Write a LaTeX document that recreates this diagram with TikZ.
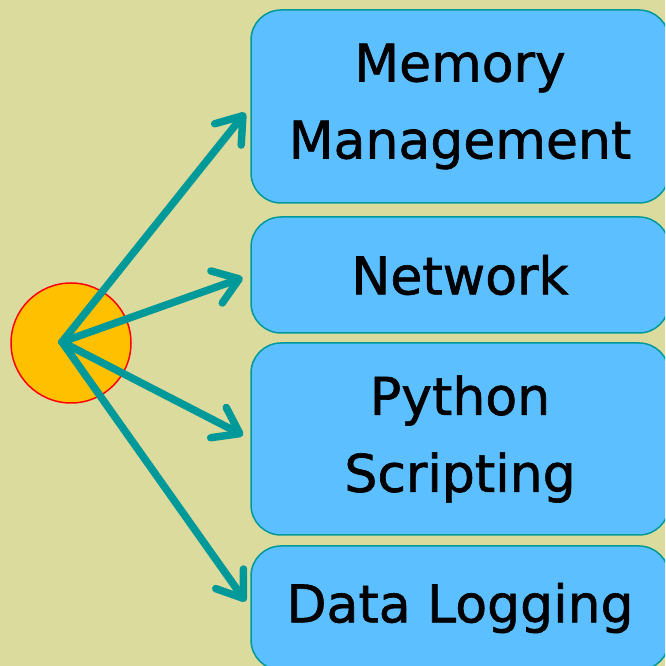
\documentclass[tikz,border=0pt]{standalone}
\usepackage{fontspec}
\setmainfont{DejaVu Sans}
\newfontfamily\topicfont{DejaVu Sans}[FakeBold=1.2]
\usetikzlibrary{arrows.meta,positioning}

\tikzset{
    topic/.style={draw=boxborder, line width=1.5pt, fill=boxfill, rounded corners=30pt,
        minimum width=418pt, align=center, inner sep=0pt,
        font=\topicfont\fontsize{52}{77}\selectfont},
    link/.style={draw=linkcolor, line width=7.5pt, line cap=round,
        -{Straight Barb[round, length=24pt, width=34pt]}, shorten >=8pt}
}

\begin{document}
\begin{tikzpicture}[x=1pt,y=1pt]
        % Define colors
        \definecolor{bgcolor}{RGB}{220,219,158}
        \definecolor{boxfill}{RGB}{92,191,255}
        \definecolor{boxborder}{RGB}{0,153,153}
        \definecolor{linkcolor}{RGB}{0,153,153}
        \definecolor{hubfill}{RGB}{255,192,0}

        % Draw background
        \useasboundingbox (0,0) rectangle (665,666);
        \clip (0,0) rectangle (665,666);
        \fill[bgcolor] (0,0) rectangle (665,666);

        % Draw hub
        \node[circle, draw=red, line width=1.5pt, fill=hubfill, minimum size=120pt] (hub) at (71,323) {};
        \coordinate (src) at (62,324);

        % Draw topics
        \node[topic, minimum height=193pt] (memory) at (460,559.5) {Memory\\Management};
        \node[topic, minimum height=116pt] (network) at (460,391) {Network};
        \node[topic, minimum height=192pt] (python) at (460,227) {Python\\Scripting};
        \node[topic, minimum height=124pt] (logging) at (460,58) {Data Logging};

        % Draw links
        \foreach \t in {memory,network,python,logging}
            \draw[link] (src) -- (\t.west);
    \end{tikzpicture}
\end{document}
